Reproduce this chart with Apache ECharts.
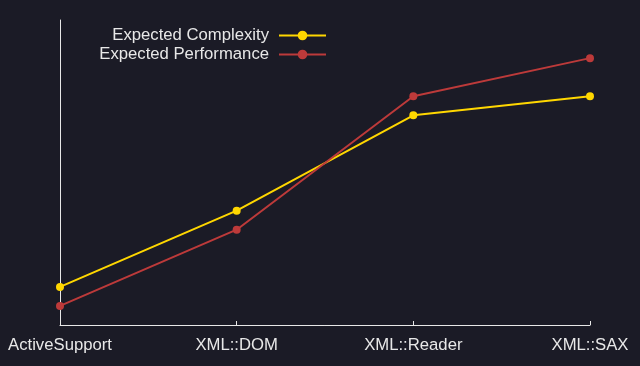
<!DOCTYPE html>
<html><head><meta charset="utf-8">
<script src="https://cdn.jsdelivr.net/npm/echarts@6/dist/echarts.min.js"></script>
<style>html,body{margin:0;padding:0;background:#1b1b26;}#c{width:640px;height:366px;}</style>
</head><body><div id="c"></div>
<script>
const categories = ['ActiveSupport', 'XML::DOM', 'XML::Reader', 'XML::SAX'];
const complexity = [2, 6, 11, 12];
const performance = [1, 5, 12, 14];
const seriesNames = ['Expected Complexity', 'Expected Performance'];

const chart = echarts.init(document.getElementById('c'), null, {renderer: 'canvas'});
const textColor = '#e8e8e8';
chart.setOption({
  backgroundColor: '#1b1b26',
  animation: false,
  textStyle: {fontFamily: 'Liberation Sans'},
  grid: {left: 60, right: 50, top: 20, bottom: 41},
  legend: {
    data: seriesNames,
    orient: 'vertical',
    align: 'right',
    right: 308,
    top: 22,
    padding: 5,
    itemWidth: 47,
    itemHeight: 12,
    itemGap: 2,
    textStyle: {color: textColor, fontSize: 16.7, fontFamily: 'Liberation Sans', padding: [0, 5, 0, 0]}
  },
  xAxis: {
    type: 'category',
    data: categories,
    boundaryGap: false,
    axisLine: {lineStyle: {color: textColor, width: 1}},
    axisTick: {show: true, inside: true, length: 4, lineStyle: {color: textColor}},
    axisLabel: {color: textColor, fontSize: 16.7, margin: 12, fontFamily: 'Liberation Sans'}
  },
  yAxis: {
    type: 'value',
    min: 0,
    max: 16,
    axisLine: {show: true, lineStyle: {color: textColor, width: 1}},
    axisTick: {show: false},
    axisLabel: {show: false},
    splitLine: {show: false}
  },
  series: [
    {
      name: seriesNames[0], type: 'line', data: complexity,
      symbol: 'circle', symbolSize: 8,
      lineStyle: {color: '#ffd700', width: 2},
      itemStyle: {color: '#ffd700'}
    },
    {
      name: seriesNames[1], type: 'line', data: performance,
      symbol: 'circle', symbolSize: 8,
      lineStyle: {color: '#bd3a3a', width: 2},
      itemStyle: {color: '#bd3a3a'}
    }
  ]
});
</script></body></html>
